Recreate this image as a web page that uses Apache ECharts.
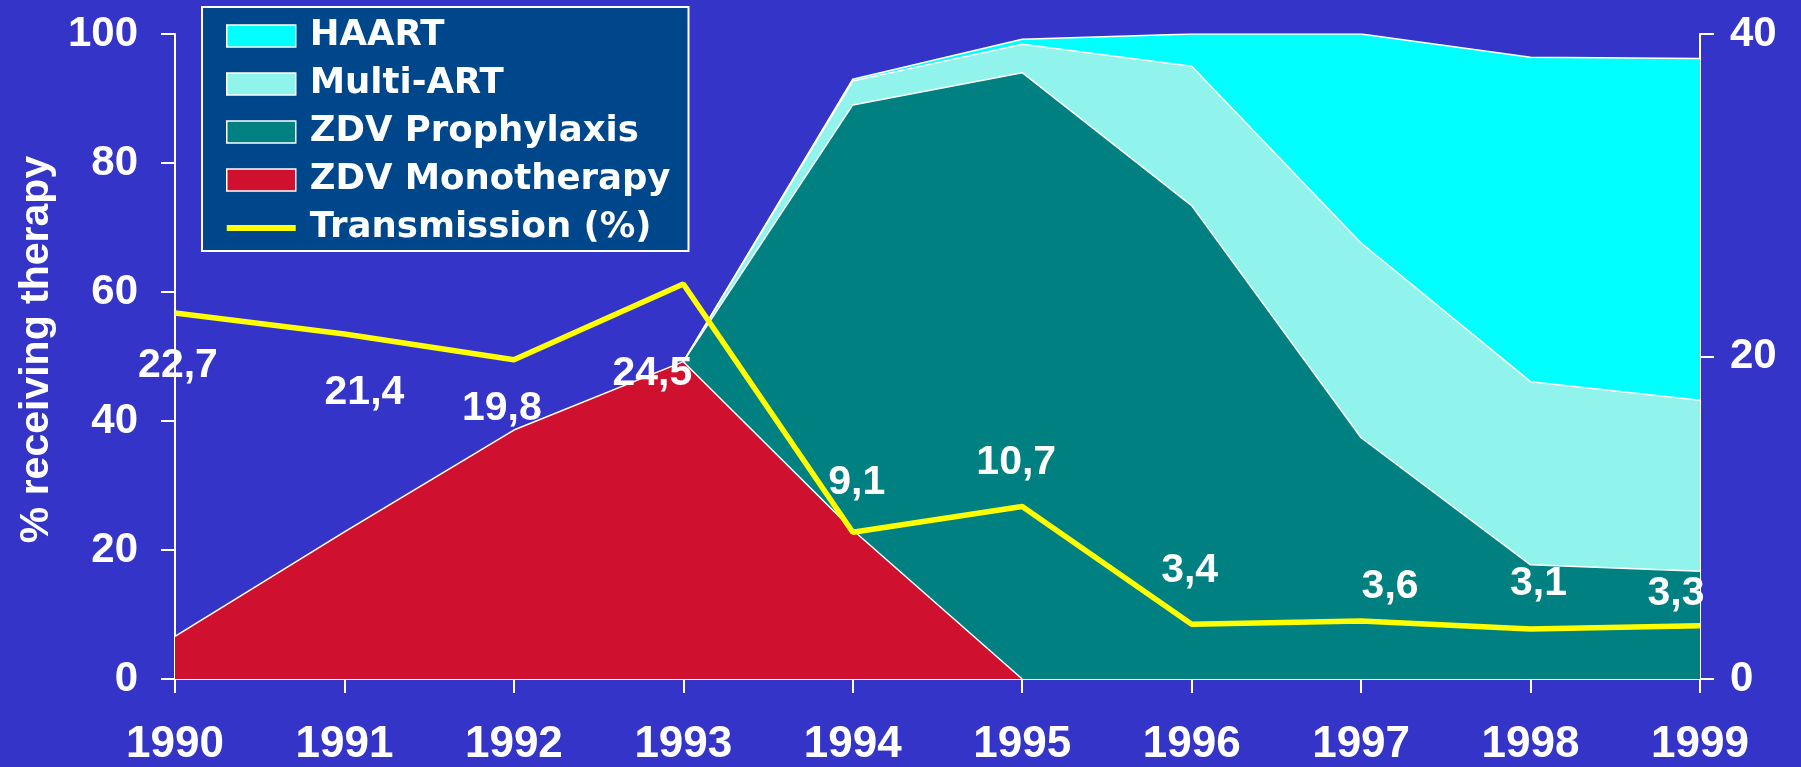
<!DOCTYPE html>
<html>
<head>
<meta charset="utf-8">
<title>Perinatal HIV: therapy and transmission, 1990–1999</title>
<script src="https://cdn.jsdelivr.net/npm/echarts@6/dist/echarts.min.js"></script>
<style>
  html, body { margin: 0; padding: 0; background: #3434C8; }
  #chart { width: 1801px; height: 767px; }
</style>
</head>
<body>
<div id="chart"></div>
<script>
// Years on the horizontal axis
const years = ['1990', '1991', '1992', '1993', '1994', '1995', '1996', '1997', '1998', '1999'];

// Share of mothers receiving each therapy (%), stacked; null = not yet in use
const zdvMonotherapy = [6.6, 22.8, 38.6, 49.2, 23.1, 0, null, null, null, null];
const zdvProphylaxis = [null, null, null, 0, 65.9, 94.0, 73.4, 37.4, 17.7, 16.7];
const multiArt       = [null, null, null, 0, 3.7, 4.4, 21.6, 30.2, 28.4, 26.5];
const haart          = [null, null, null, 0, 0.3, 0.8, 5.0, 32.4, 50.3, 53.0];

// Vertical transmission rate (%), right axis
const transmission = [22.7, 21.4, 19.8, 24.5, 9.1, 10.7, 3.4, 3.6, 3.1, 3.3];

// Axis tick values
const leftTicks = [0, 20, 40, 60, 80, 100];
const rightTicks = [0, 20, 40];

// Per-point nudges for the transmission value labels (px)
const labelNudge = [[3, 53], [20, 59], [-12, 49], [-31, 90], [4, -50], [-6, -44], [-2, -53], [29, -34], [8, -45], [-24, -32]];

const WHITE = '#FFFFFF';
const ARIAL = 'Liberation Sans, Arial, sans-serif';
const wideBold = { fontFamily: 'DejaVu Sans', fontWeight: 'bold', color: WHITE };
const plainBold = { fontFamily: ARIAL, fontWeight: 'bold', color: WHITE };

function areaSeries(name, data, fill) {
  return {
    name: name,
    type: 'line',
    stack: 'therapy',
    data: data,
    symbol: 'none',
    smooth: false,
    color: fill,
    itemStyle: { color: fill },
    lineStyle: { color: WHITE, width: 1.5 },
    areaStyle: { color: fill, opacity: 1 },
    emphasis: { disabled: true },
    z: 2
  };
}

const chart = echarts.init(document.getElementById('chart'), null, { renderer: 'canvas' });

chart.setOption({
  animation: false,
  backgroundColor: '#3434C8',
  grid: { left: 175, right: 101, top: 34, bottom: 88, containLabel: false },
  legend: {
    left: 202,
    top: 7,
    orient: 'vertical',
    backgroundColor: '#00468A',
    borderColor: WHITE,
    borderWidth: 2,
    borderRadius: 0,
    padding: [11, 18, 5, 24],
    itemGap: 12,
    itemWidth: 69,
    itemHeight: 22,
    selectedMode: false,
    itemStyle: { borderColor: WHITE, borderWidth: 1.5 },
    textStyle: Object.assign({ fontSize: 35.5, lineHeight: 36, padding: [0, 0, 0, 9] }, wideBold),
    data: [
      { name: 'HAART', icon: 'rect' },
      { name: 'Multi-ART', icon: 'rect' },
      { name: 'ZDV Prophylaxis', icon: 'rect' },
      { name: 'ZDV Monotherapy', icon: 'rect' },
      { name: 'Transmission (%)', icon: 'path://M0,0H69V6H0Z', itemStyle: { color: '#FFFF00', borderWidth: 0 } }
    ]
  },
  xAxis: {
    type: 'category',
    data: years,
    boundaryGap: false,
    axisLine: { lineStyle: { color: WHITE, width: 2 } },
    axisTick: { show: true, inside: false, length: 14, lineStyle: { color: WHITE, width: 2 } },
    axisLabel: Object.assign({ margin: 44, fontSize: 44 }, plainBold),
    splitLine: { show: false }
  },
  yAxis: [
    {
      type: 'value',
      min: leftTicks[0],
      max: leftTicks[leftTicks.length - 1],
      interval: leftTicks[1] - leftTicks[0],
      position: 'left',
      name: '% receiving therapy',
      nameLocation: 'middle',
      nameRotate: 90,
      nameGap: 112,
      nameTextStyle: Object.assign({ fontSize: 41, padding: [0, 0, 0, 14] }, plainBold),
      axisLine: { show: true, lineStyle: { color: WHITE, width: 2 } },
      axisTick: { show: true, inside: false, length: 14, lineStyle: { color: WHITE, width: 2 } },
      axisLabel: Object.assign({ margin: 37, fontSize: 42 }, plainBold),
      splitLine: { show: false }
    },
    {
      type: 'value',
      min: rightTicks[0],
      max: rightTicks[rightTicks.length - 1],
      interval: rightTicks[1] - rightTicks[0],
      position: 'right',
      axisLine: { show: true, lineStyle: { color: WHITE, width: 2 } },
      axisTick: { show: true, inside: false, length: 14, lineStyle: { color: WHITE, width: 2 } },
      axisLabel: Object.assign({ margin: 30, fontSize: 42 }, plainBold),
      splitLine: { show: false }
    }
  ],
  series: [
    areaSeries('ZDV Monotherapy', zdvMonotherapy, '#D0102F'),
    areaSeries('ZDV Prophylaxis', zdvProphylaxis, '#008080'),
    areaSeries('Multi-ART', multiArt, '#90F4EC'),
    areaSeries('HAART', haart, '#00FFFF'),
    {
      name: 'Transmission (%)',
      type: 'line',
      yAxisIndex: 1,
      data: transmission.map(function (v, i) {
        return { value: v, label: { offset: labelNudge[i] } };
      }),
      symbol: 'circle',
      symbolSize: 1,
      showSymbol: true,
      color: '#FFFF00',
      itemStyle: { color: '#FFFF00' },
      lineStyle: { color: '#FFFF00', width: 5.5 },
      emphasis: { disabled: true },
      z: 5,
      label: Object.assign({
        show: true,
        position: 'inside',
        fontSize: 41,
        formatter: function (p) { return p.value.toFixed(1).replace('.', ','); }
      }, plainBold)
    }
  ]
});
</script>
</body>
</html>
